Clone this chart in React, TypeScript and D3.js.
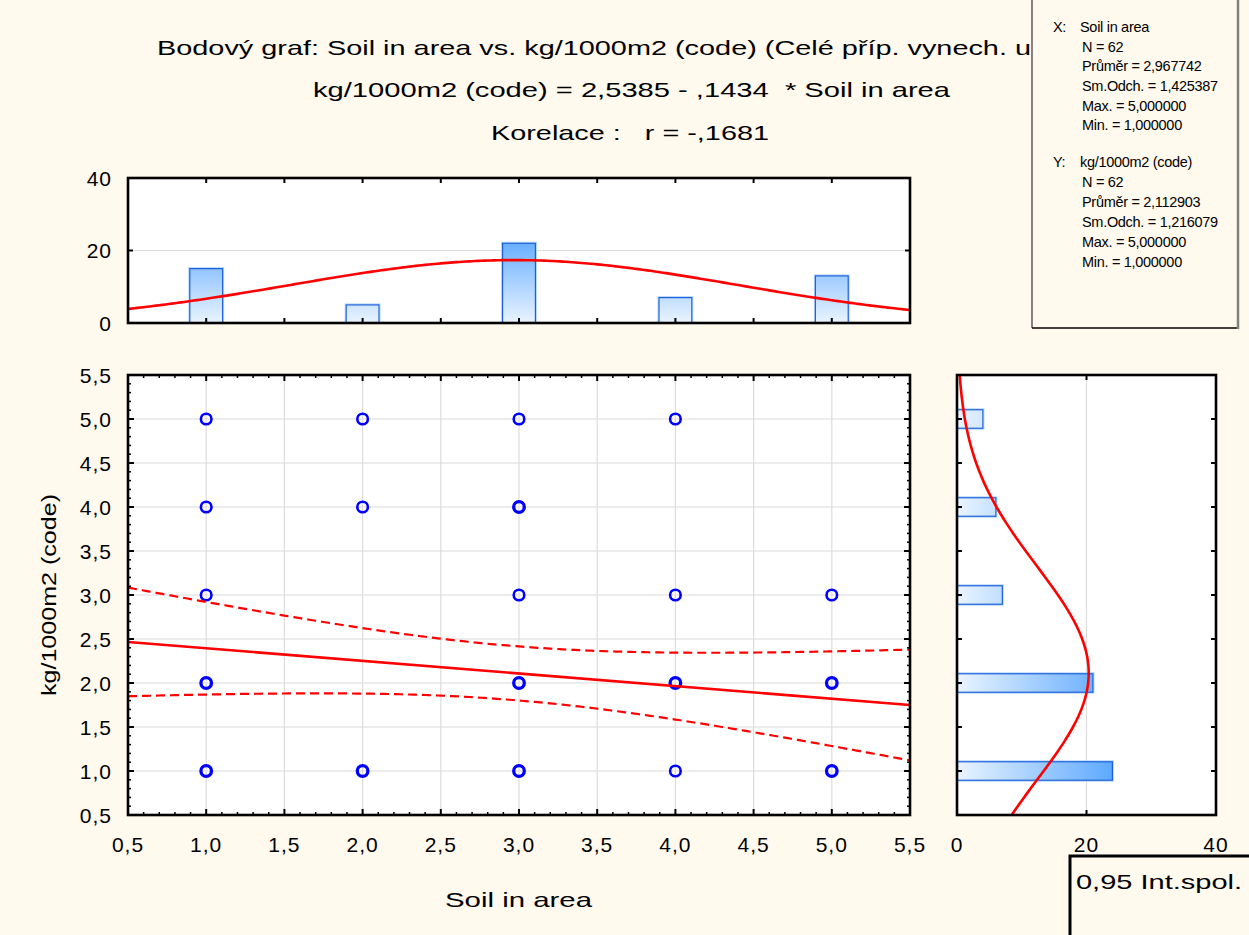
import React from 'react';
import * as d3 from 'd3';

// ---- data ----
const W = 1249;
const H = 935;

const binCenters = [1, 2, 3, 4, 5];
const xBinCounts = [15, 5, 22, 7, 13];
const yBinCounts = [24, 21, 7, 6, 4];

// distinct scatter positions and how many cases sit on each
const scatterX = [1, 2, 3, 4, 1, 2, 3, 1, 3, 4, 5, 1, 3, 4, 5, 1, 2, 3, 4, 5];
const scatterY = [5, 5, 5, 5, 4, 4, 4, 3, 3, 3, 3, 2, 2, 2, 2, 1, 1, 1, 1, 1];
const scatterN = [1, 1, 1, 1, 1, 1, 4, 2, 2, 1, 2, 5, 7, 4, 5, 6, 3, 8, 1, 6];

const axisTicks = [0.5, 1, 1.5, 2, 2.5, 3, 3.5, 4, 4.5, 5, 5.5];
const countTicks = [0, 20, 40];

const statN = 62;
const xMean = 2.967742;
const xSd = 1.425387;
const xMax = 5;
const xMin = 1;
const yMean = 2.112903;
const ySd = 1.216079;
const yMax = 5;
const yMin = 1;
const intercept = 2.5385;
const slope = -0.1434;
const corr = -0.1681;
const tCrit = 2.0003; // t(0.975, df = 60)
const binWidth = 1;

const xName = 'Soil in area';
const yName = 'kg/1000m2 (code)';

// ---- formatting ----
const locale = d3.formatLocale({
  decimal: ',',
  thousands: ' ',
  grouping: [3],
  currency: ['', ' Kč'],
  minus: '-',
});
const f1 = locale.format('.1f');
const f4 = locale.format('.4f');
const f6 = locale.format('.6f');
const noLead = (s: string) => s.replace(/^(-?)0,/, '$1,');

// ---- layout ----
const SC = { l: 128, r: 910, t: 375, b: 815 };
const TH = { l: 128, r: 910, t: 178, b: 323 };
const RH = { l: 957, r: 1216, t: 375, b: 815 };

const FONT = '"Liberation Sans", Arial, sans-serif';
const RED = '#ff0000';
const BLUE = '#0000ff';
const BG = '#fff9ee';
const GRID = '#dcdcdc';

const sx = d3.scaleLinear().domain([0.5, 5.5]).range([SC.l, SC.r]);
const sy = d3.scaleLinear().domain([0.5, 5.5]).range([SC.b, SC.t]);
const hy = d3.scaleLinear().domain([0, 40]).range([TH.b, TH.t]);
const hx = d3.scaleLinear().domain([0, 40]).range([RH.l, RH.r]);

const normalPdf = (v: number, m: number, s: number) =>
  Math.exp(-0.5 * ((v - m) / s) ** 2) / (s * Math.sqrt(2 * Math.PI));

const sampleX = d3.range(0.5, 5.5001, 0.02);

// fitted normal curves for the two marginal histograms
const topCurve = d3
  .line<number>()
  .x((v) => sx(v))
  .y((v) => hy(statN * binWidth * normalPdf(v, xMean, xSd)))(sampleX) as string;

const rightCurve = d3
  .line<number>()
  .x((v) => hx(statN * binWidth * normalPdf(v, yMean, ySd)))
  .y((v) => sy(v))(sampleX) as string;

// regression line and 95 % confidence band of the mean
const sRes = ySd * Math.sqrt(((1 - corr * corr) * (statN - 1)) / (statN - 2));
const sxx = (statN - 1) * xSd * xSd;
const fit = (v: number) => intercept + slope * v;
const half = (v: number) => tCrit * sRes * Math.sqrt(1 / statN + (v - xMean) ** 2 / sxx);

const fitLine = d3.line<number>().x((v) => sx(v)).y((v) => sy(fit(v)))([0.5, 5.5]) as string;
const upperBand = d3.line<number>().x((v) => sx(v)).y((v) => sy(fit(v) + half(v)))(sampleX) as string;
const lowerBand = d3.line<number>().x((v) => sx(v)).y((v) => sy(fit(v) - half(v)))(sampleX) as string;

const minorTicks = d3.range(5, 56).map((i) => i / 10).filter((v) => Math.round(v * 10) % 5 !== 0);

const xStatLines = [
  `N = ${statN}`,
  `Průměr = ${f6(xMean)}`,
  `Sm.Odch. = ${f6(xSd)}`,
  `Max. = ${f6(xMax)}`,
  `Min. = ${f6(xMin)}`,
];
const yStatLines = [
  `N = ${statN}`,
  `Průměr = ${f6(yMean)}`,
  `Sm.Odch. = ${f6(ySd)}`,
  `Max. = ${f6(yMax)}`,
  `Min. = ${f6(yMin)}`,
];

const title1 = `Bodový graf: ${xName} vs. ${yName} (Celé příp. vynech. u`;
const title2 = `${yName} = ${f4(intercept)} - ${noLead(f4(-slope))}  * ${xName}`;
const title3 = `Korelace :   r = ${noLead(f4(corr))}`;

const BAR = 0.21; // bar thickness in axis units

export default function App() {
  const barW = sx(1 + BAR / 2) - sx(1 - BAR / 2);
  const barH = sy(1 - BAR / 2) - sy(1 + BAR / 2);
  const tickText = { fontFamily: FONT, fontSize: 21, fill: '#000', letterSpacing: 1 } as const;
  const pre = { whiteSpace: 'pre' } as const;

  return (
    <svg
      width={W}
      height={H}
      viewBox={`0 0 ${W} ${H}`}
      style={{ position: 'absolute', left: 0, top: 0, display: 'block' }}
    >
      <defs>
        <linearGradient id="gradTop" gradientUnits="userSpaceOnUse" x1="0" y1={TH.b} x2="0" y2={hy(24)}>
          <stop offset="0" stopColor="#eaf4ff" />
          <stop offset="1" stopColor="#5ea9ff" />
        </linearGradient>
        <linearGradient id="gradRight" gradientUnits="userSpaceOnUse" x1={RH.l} y1="0" x2={hx(24)} y2="0">
          <stop offset="0" stopColor="#eaf4ff" />
          <stop offset="1" stopColor="#5ea9ff" />
        </linearGradient>
        <clipPath id="clipSc">
          <rect x={SC.l} y={SC.t} width={SC.r - SC.l} height={SC.b - SC.t} />
        </clipPath>
        <clipPath id="clipTop">
          <rect x={TH.l} y={TH.t} width={TH.r - TH.l} height={TH.b - TH.t} />
        </clipPath>
        <clipPath id="clipRight">
          <rect x={RH.l} y={RH.t} width={RH.r - RH.l} height={RH.b - RH.t} />
        </clipPath>
      </defs>

      <rect x={0} y={0} width={W} height={H} fill={BG} />

      {/* titles */}
      <g fontFamily={FONT} fontSize={21} fill="#000">
        <text x={157} y={55} textLength={874} lengthAdjust="spacingAndGlyphs" xmlSpace="preserve" style={pre}>
          {title1}
        </text>
        <text x={313} y={97} textLength={637} lengthAdjust="spacingAndGlyphs" xmlSpace="preserve" style={pre}>
          {title2}
        </text>
        <text x={491} y={140} textLength={278} lengthAdjust="spacingAndGlyphs" xmlSpace="preserve" style={pre}>
          {title3}
        </text>
      </g>

      {/* ---- top histogram ---- */}
      <rect x={TH.l} y={TH.t} width={TH.r - TH.l} height={TH.b - TH.t} fill="#fff" />
      <line x1={TH.l} x2={TH.r} y1={hy(20)} y2={hy(20)} stroke={GRID} strokeWidth={1.2} />
      {binCenters.map((c, i) => (
        <g key={`tb${i}`}>
          <rect
            x={sx(c) - barW / 2 - 1}
            y={hy(xBinCounts[i]) - 1}
            width={barW + 2}
            height={hy(0) - hy(xBinCounts[i]) + 1}
            fill="none"
            stroke="#b4d6ff"
            strokeWidth={1}
          />
          <rect
            x={sx(c) - barW / 2}
            y={hy(xBinCounts[i])}
            width={barW}
            height={hy(0) - hy(xBinCounts[i])}
            fill="url(#gradTop)"
            stroke="#1c5fd8"
            strokeWidth={1.2}
          />
        </g>
      ))}
      <path d={topCurve} fill="none" stroke={RED} strokeWidth={2.6} clipPath="url(#clipTop)" />
      {axisTicks.slice(1, -1).map((t) => (
        <g key={`tht${t}`} stroke="#000" strokeWidth={2}>
          <line x1={sx(t)} x2={sx(t)} y1={TH.t} y2={TH.t + 5} />
          <line x1={sx(t)} x2={sx(t)} y1={TH.b} y2={TH.b - 5} />
        </g>
      ))}
      {countTicks.map((t) => (
        <g key={`thy${t}`}>
          <line x1={TH.l} x2={TH.l + 5} y1={hy(t)} y2={hy(t)} stroke="#000" strokeWidth={2} />
          <line x1={TH.r} x2={TH.r - 5} y1={hy(t)} y2={hy(t)} stroke="#000" strokeWidth={2} />
          <text {...tickText} x={112} y={hy(t)} dy="0.36em" textAnchor="end">{t}</text>
        </g>
      ))}
      <rect x={TH.l} y={TH.t} width={TH.r - TH.l} height={TH.b - TH.t} fill="none" stroke="#000" strokeWidth={2.6} />

      {/* ---- scatter plot ---- */}
      <rect x={SC.l} y={SC.t} width={SC.r - SC.l} height={SC.b - SC.t} fill="#fff" />
      {axisTicks.slice(1, -1).map((t) => (
        <g key={`g${t}`} stroke={GRID} strokeWidth={1.2}>
          <line x1={sx(t)} x2={sx(t)} y1={SC.t} y2={SC.b} />
          <line x1={SC.l} x2={SC.r} y1={sy(t)} y2={sy(t)} />
        </g>
      ))}
      {scatterX.map((x, i) => (
        <circle
          key={`p${i}`}
          cx={sx(x)}
          cy={sy(scatterY[i])}
          r={5.3}
          fill="none"
          stroke={BLUE}
          strokeWidth={scatterN[i] >= 3 ? 3.3 : 2.6}
        />
      ))}
      <g clipPath="url(#clipSc)" fill="none" stroke={RED}>
        <path d={fitLine} strokeWidth={2.6} />
        <path d={upperBand} strokeWidth={2.2} strokeDasharray="9 5" />
        <path d={lowerBand} strokeWidth={2.2} strokeDasharray="9 5" />
      </g>
      {minorTicks.map((t) => (
        <g key={`mt${t}`} stroke="#000" strokeWidth={1.5}>
          <line x1={sx(t)} x2={sx(t)} y1={SC.t} y2={SC.t + 3} />
          <line x1={sx(t)} x2={sx(t)} y1={SC.b} y2={SC.b - 3} />
          <line x1={SC.l} x2={SC.l + 3} y1={sy(t)} y2={sy(t)} />
          <line x1={SC.r} x2={SC.r - 3} y1={sy(t)} y2={sy(t)} />
        </g>
      ))}
      {axisTicks.map((t) => (
        <g key={`st${t}`}>
          <g stroke="#000" strokeWidth={2}>
            <line x1={sx(t)} x2={sx(t)} y1={SC.t} y2={SC.t + 6} />
            <line x1={sx(t)} x2={sx(t)} y1={SC.b} y2={SC.b - 6} />
            <line x1={SC.l} x2={SC.l + 6} y1={sy(t)} y2={sy(t)} />
            <line x1={SC.r} x2={SC.r - 6} y1={sy(t)} y2={sy(t)} />
          </g>
          <text {...tickText} x={sx(t)} y={852} textAnchor="middle">{f1(t)}</text>
          <text {...tickText} x={112} y={sy(t)} dy="0.36em" textAnchor="end">{f1(t)}</text>
        </g>
      ))}
      <rect x={SC.l} y={SC.t} width={SC.r - SC.l} height={SC.b - SC.t} fill="none" stroke="#000" strokeWidth={2.6} />

      {/* axis titles */}
      <text x={445} y={907} fontFamily={FONT} fontSize={21} textLength={147} lengthAdjust="spacingAndGlyphs">
        {xName}
      </text>
      <text
        transform={`translate(56, ${(SC.t + SC.b) / 2}) rotate(-90)`}
        x={0}
        y={0}
        fontFamily={FONT}
        fontSize={21}
        textAnchor="middle"
        textLength={202}
        lengthAdjust="spacingAndGlyphs"
      >
        {yName}
      </text>

      {/* ---- right histogram ---- */}
      <rect x={RH.l} y={RH.t} width={RH.r - RH.l} height={RH.b - RH.t} fill="#fff" />
      <line x1={hx(20)} x2={hx(20)} y1={RH.t} y2={RH.b} stroke={GRID} strokeWidth={1.2} />
      {binCenters.map((c, i) => (
        <g key={`rb${i}`}>
          <rect
            x={hx(0)}
            y={sy(c) - barH / 2 - 1}
            width={hx(yBinCounts[i]) - hx(0) + 1}
            height={barH + 2}
            fill="none"
            stroke="#b4d6ff"
            strokeWidth={1}
          />
          <rect
            x={hx(0)}
            y={sy(c) - barH / 2}
            width={hx(yBinCounts[i]) - hx(0)}
            height={barH}
            fill="url(#gradRight)"
            stroke="#1c5fd8"
            strokeWidth={1.2}
          />
        </g>
      ))}
      <path d={rightCurve} fill="none" stroke={RED} strokeWidth={2.6} clipPath="url(#clipRight)" />
      {axisTicks.slice(1, -1).map((t) => (
        <g key={`rht${t}`} stroke="#000" strokeWidth={2}>
          <line x1={RH.l} x2={RH.l + 5} y1={sy(t)} y2={sy(t)} />
          <line x1={RH.r} x2={RH.r - 5} y1={sy(t)} y2={sy(t)} />
        </g>
      ))}
      {countTicks.map((t) => (
        <g key={`rhx${t}`}>
          <line x1={hx(t)} x2={hx(t)} y1={RH.b} y2={RH.b - 5} stroke="#000" strokeWidth={2} />
          <line x1={hx(t)} x2={hx(t)} y1={RH.t} y2={RH.t + 5} stroke="#000" strokeWidth={2} />
          <text {...tickText} x={hx(t)} y={852} textAnchor="middle">{t}</text>
        </g>
      ))}
      <rect x={RH.l} y={RH.t} width={RH.r - RH.l} height={RH.b - RH.t} fill="none" stroke="#000" strokeWidth={2.6} />

      {/* ---- statistics box ---- */}
      <rect x={1032} y={-2} width={206} height={330} fill={BG} />
      <line x1={1032} x2={1032} y1={0} y2={328} stroke="#333" strokeWidth={1.2} />
      <line x1={1032} x2={1238} y1={328} y2={328} stroke="#000" strokeWidth={1.5} />
      <line x1={1238} x2={1238} y1={0} y2={329} stroke="#808080" strokeWidth={2.5} />
      <g fontFamily={FONT} fontSize={14.5} fill="#000" letterSpacing={-0.3}>
        <text x={1053} y={32}>X:</text>
        <text x={1080} y={32}>{xName}</text>
        {xStatLines.map((s, i) => (
          <text key={`xs${i}`} x={1082} y={51.6 + i * 19.7}>{s}</text>
        ))}
        <text x={1053} y={167}>Y:</text>
        <text x={1080} y={167}>{yName}</text>
        {yStatLines.map((s, i) => (
          <text key={`ys${i}`} x={1082} y={187 + i * 19.9}>{s}</text>
        ))}
      </g>

      {/* ---- legend box ---- */}
      <rect x={1070} y={856} width={200} height={100} fill={BG} stroke="#000" strokeWidth={3} />
      <text x={1076} y={889} fontFamily={FONT} fontSize={21} textLength={166} lengthAdjust="spacingAndGlyphs">
        0,95 Int.spol.
      </text>
    </svg>
  );
}
